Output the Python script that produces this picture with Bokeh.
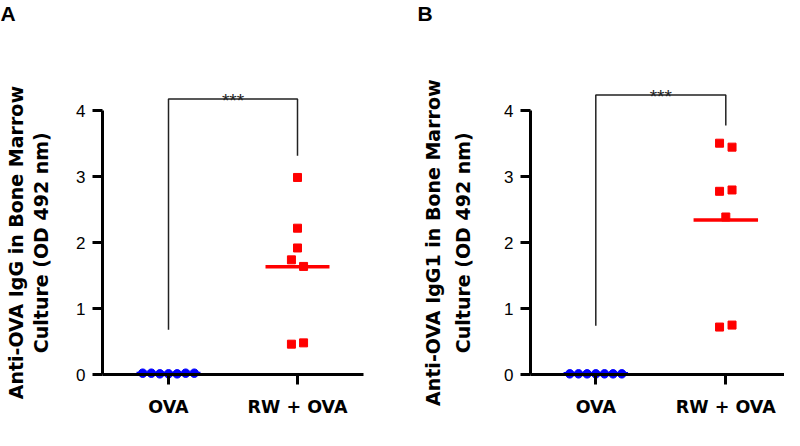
import numpy as np
from bokeh.plotting import figure
from bokeh.models import Range1d, FixedTicker, Label
from bokeh.layouts import row
from bokeh.embed import file_html
from bokeh.resources import INLINE
from bokeh.core.properties import value

# ---------------- data ----------------
categories = ["OVA", "RW + OVA"]
y_ticks = [0, 1, 2, 3, 4]

# Panel A: Anti-OVA IgG
a_ova = [0.02, 0.02, 0.01, 0.01, 0.01, 0.02, 0.02]
a_rw = [2.99, 2.22, 1.92, 1.74, 1.64, 0.46, 0.48]
a_rw_jitter = [0.0, 0.0, 0.0, -0.047, 0.047, -0.047, 0.047]

# Panel B: Anti-OVA IgG1
b_ova = [0.01, 0.01, 0.01, 0.01, 0.01, 0.01, 0.01]
b_rw = [3.51, 3.45, 2.78, 2.80, 2.39, 0.72, 0.75]
b_rw_jitter = [-0.048, 0.048, -0.048, 0.048, 0.0, -0.048, 0.048]

ova_jitter = [-0.2, -0.133, -0.067, 0.0, 0.067, 0.133, 0.2]

# significance brackets: [left leg bottom, top, right leg bottom]
a_bracket = [0.68, 4.18, 3.32]
b_bracket = [0.74, 4.24, 3.78]
significance = "***"

FONT = "Liberation Sans"
LABEL_FONT = "DejaVu Sans"
BLUE = "#0000ff"
RED = "#ff0000"
H = 430
Y0_PX = 374.0      # canvas y of value 0
Y_SCALE = 65.9     # px per unit


def make_panel(letter, lab1, lab2, ova, rw, rw_jit, bracket, width,
               ova_px, x_scale, yaxis_px, xaxis_end_px, base1, base2, letter_x):
    xs = 1 - ova_px / x_scale
    xe = xs + width / x_scale
    ys = -(H - Y0_PX) / Y_SCALE
    ye = Y0_PX / Y_SCALE
    yaxis_x = xs + yaxis_px / x_scale
    p = figure(width=width, height=H, x_range=Range1d(xs, xe),
               y_range=Range1d(ys, ye), output_backend="svg",
               toolbar_location=None, min_border=0)
    p.outline_line_color = None
    p.xgrid.visible = False
    p.ygrid.visible = False
    p.background_fill_color = "white"

    # axes
    p.xaxis.fixed_location = 0
    p.xaxis.bounds = (yaxis_x, xs + xaxis_end_px / x_scale)
    p.xaxis.ticker = FixedTicker(ticks=[1, 2])
    p.xaxis.major_label_overrides = {1: categories[0], 2: categories[1]}
    p.xaxis.major_label_text_font = LABEL_FONT
    p.xaxis.major_label_text_font_style = "bold"
    p.xaxis.major_label_text_font_size = "17.5px"
    p.xaxis.major_label_standoff = 12
    p.yaxis.fixed_location = yaxis_x
    p.yaxis.ticker = FixedTicker(ticks=y_ticks)
    p.yaxis.bounds = (0, 4)
    p.yaxis.major_label_text_font = FONT
    p.yaxis.major_label_text_font_size = "17px"
    p.yaxis.major_label_standoff = 7
    for ax in (p.xaxis, p.yaxis):
        ax.axis_line_width = 3
        ax.axis_line_color = "black"
        ax.major_tick_line_width = 3
        ax.major_tick_line_color = "black"
        ax.major_tick_in = 0
        ax.major_tick_out = 10
        ax.minor_tick_line_color = None
        ax.major_label_text_color = "black"

    # OVA group
    ova_x = [1 + j for j in ova_jitter]
    ova_mean = float(np.mean(ova))
    p.segment(x0=[1 - 0.248], x1=[1 + 0.248], y0=[ova_mean], y1=[ova_mean],
              line_color=BLUE, line_width=3.5)
    p.scatter(ova_x, ova, marker="circle", size=8.5, fill_color=BLUE,
              line_color=BLUE)

    # RW + OVA group
    rw_x = [2 + j for j in rw_jit]
    rw_mean = float(np.mean(rw))
    p.scatter(rw_x, rw, marker="square", size=8, fill_color=RED,
              line_color=RED)
    p.segment(x0=[2 - 0.248], x1=[2 + 0.248], y0=[rw_mean], y1=[rw_mean],
              line_color=RED, line_width=3.5)

    # significance bracket
    p.line(x=[1, 1, 2, 2], y=[bracket[0], bracket[1], bracket[1], bracket[2]],
           line_color="#222222", line_width=1.5)
    p.text(x=[1.5], y=[bracket[1] - 0.02], text=[significance],
           text_align="center", text_baseline="alphabetic",
           text_font=value(FONT), text_font_size="19px", text_color="#222222")

    # y-axis title (two lines)
    for txt, base in ((lab1, base1), (lab2, base2)):
        p.add_layout(Label(x=base, y=2, x_units="screen",
                           y_units="data", text=txt, angle=np.pi / 2,
                           text_align="center", text_baseline="alphabetic",
                           text_font=LABEL_FONT, text_font_style="bold",
                           text_font_size="19px", text_color="black"))
    # panel letter
    p.add_layout(Label(x=letter_x, y=H - 1,
                       x_units="screen", y_units="screen", text=letter,
                       text_align="left", text_baseline="top",
                       text_font=FONT, text_font_style="bold",
                       text_font_size="21px", text_color="black"))
    return p


pA = make_panel("A", "Anti-OVA IgG in Bone Marrow", "Culture (OD 492 nm)",
                a_ova, a_rw, a_rw_jitter, a_bracket, 416,
                168, 129, 102, 363, 15, 40, 0)
pB = make_panel("B", "Anti-OVA IgG1 in Bone Marrow", "Culture (OD 492 nm)",
                b_ova, b_rw, b_rw_jitter, b_bracket, 368,
                603.3 - 424, 130, 538 - 424, 368, 16, 46, 1)

layout = row(pA, pB)
open("out.html", "w").write(file_html(layout, INLINE))
